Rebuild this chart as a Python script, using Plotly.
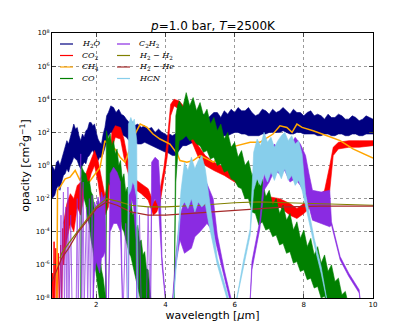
import plotly.graph_objects as go

# opacity values are stored as log10(kappa / cm^2 g^-1); None splits a band into pieces
h2o_wl = [0.72, 0.8, 0.85, 0.9, 0.95, 1.0, 1.05, 1.1, 1.15, 1.2, 1.25, 1.3, 1.35, 1.4, 1.45, 1.5, 1.55, 1.6, 1.65,
          1.7, 1.75, 1.8, 1.85, 1.9, 1.95, 2.0, 2.05, 2.1, 2.15, 2.2, 2.25, 2.3, 2.35, 2.42, 2.5, 2.57, 2.65, 2.72,
          2.8, 2.87, 2.95, 3.02, 3.1, 3.2, 3.3, 3.4, 3.5, 3.6, 3.7, 3.8, 3.9, 4.0, 4.05, 4.12, 4.2, 4.28, 4.35, 4.42,
          4.5, 4.6, 4.7, 4.8, 4.9, 5.0, 5.1, 5.2, 5.3, 5.4, 5.5, 5.6, 5.7, 5.8, 5.9, 6.0, 6.1, 6.2, 6.3, 6.4, 6.5,
          6.6, 6.7, 6.8, 6.9, 7.0, 7.1, 7.2, 7.3, 7.4, 7.5, 7.6, 7.7, 7.8, 7.9, 8.0, 8.1, 8.2, 8.3, 8.4, 8.5, 8.6,
          8.7, 8.8, 8.9, 9.0, 9.1, 9.2, 9.3, 9.4, 9.5, 9.6, 9.7, 9.8, 9.9, 10.0]
h2o_lo = [-2.0, -1.8, -1.4, -1.2, -1.5, -1.0, -0.6, -0.5, -0.2, -0.4, 0.0, 0.2, 0.5, 0.4, 0.3, 0.0, -0.2, 0.0, 0.2,
          0.1, 0.5, 0.6, 0.8, 0.9, 0.7, 0.5, 0.3, 0.5, 0.5, 0.7, 1.0, 1.4, 1.8, 2.0, 2.0, 2.1, 2.0, 1.9,
          1.8, 1.7, 1.5, 1.5, 1.4, 1.3, 1.3, 1.4, 1.3, 1.2, 1.1, 1.0, 0.9, 0.8, 0.8, 0.7, 0.6, 0.6, 0.8, 1.0,
          1.2, 1.2, 1.3, 1.4, 1.4, 1.5, 1.4, 1.5, 1.5, 1.6, 1.6, 1.7, 1.8, 1.8, 1.9, 2.0, 2.0, 1.9, 1.9, 1.8, 1.8,
          1.8, 1.8, 1.9, 1.9, 2.0, 2.0, 2.0, 2.0, 2.1, 2.0, 1.9, 1.9, 2.0, 2.0, 1.9, 1.9, 1.9, 1.9, 1.8, 1.8, 1.9,
          1.9, 1.8, 1.8, 1.9, 1.9, 1.8, 1.8, 1.9, 1.9, 1.8, 1.8, 1.9, 1.9, 1.9]
h2o_hi = [0.0, -0.3, 0.2, 0.3, 0.0, 0.4, 0.8, 1.2, 1.5, 1.3, 1.7, 2.1, 2.5, 2.2, 2.3, 1.8, 1.5, 1.9, 1.7,
          2.1, 2.2, 2.6, 2.6, 2.4, 2.5, 2.0, 1.6, 1.4, 1.3, 1.9, 2.3, 3.0, 3.2, 3.6, 3.5, 3.2, 3.4, 3.1,
          3.0, 2.8, 2.6, 2.7, 2.4, 2.5, 2.3, 2.4, 2.2, 2.3, 2.0, 2.2, 2.0, 1.9, 1.8, 1.9, 1.8, 1.9, 2.0, 2.3,
          2.5, 2.7, 2.8, 2.6, 3.0, 2.9, 3.1, 2.8, 3.0, 3.2, 3.2, 2.9, 3.3, 3.1, 3.4, 3.2, 3.5, 3.3, 3.3, 3.5, 3.2,
          3.0, 3.1, 3.4, 3.3, 3.1, 3.4, 3.2, 3.3, 3.5, 3.3, 3.1, 3.4, 3.2, 3.2, 3.0, 3.2, 3.3, 3.0, 3.1, 3.0, 2.8,
          3.1, 2.9, 2.9, 3.1, 3.0, 2.8, 2.8, 3.0, 2.9, 2.7, 2.8, 3.0, 2.9, 2.8]

co2_wl = [1.05, 1.15, 1.25, 1.35, 1.45, 1.55, 1.65, 1.75, 1.85, 1.95, 2.05, 2.15,
          2.25, 2.35, 2.45, 2.55, 2.7, 2.8, 2.9, 3.0, 3.1, 3.3, 3.5, 3.65, 3.75, 3.85, 3.95, 4.05, 4.15, 4.25,
          4.4, 4.6, 4.75, 4.95, 5.15, 5.4, 5.7, 6.0, 6.3, 6.55, 6.75, 7.0, 7.3, 7.6, 7.8, 8.0, 8.2, 8.4, 8.6,
          8.75, 8.85, 9.0, 9.3, 9.6, 10.0]
co2_lo = [-6.0, -4.5, -3.5, -4.0, -2.5, -3.0, -1.8, -1.3, -0.5, 0.0, -1.0, -2.5,
          -3.0, -2.5, 1.0, 1.7, 1.6, 0.5, -0.3, -1.0, -1.4, -1.7, -2.1, -3.0, -2.8, -2.2, -1.0, 0.5, 3.0, 3.6,
          3.4, 2.8, 1.5, 0.5, 0.0, -0.3, -0.6, -1.0, -1.4, -1.8, -2.3, -2.4, -2.5, -3.0, -3.2, -2.9, -2.5, -2.4, -2.3,
          -1.5, 0.6, 1.0, 1.1, 1.1, 1.2]
co2_hi = [-3.5, -2.3, -1.7, -2.0, -1.2, -1.0, -0.8, -0.2, 0.4, 0.9, 0.3, -0.8,
          -1.8, -1.0, 2.0, 2.4, 2.3, 1.6, 0.5, -0.2, -0.8, -1.1, -1.4, -2.2, -2.0, -1.4, -0.2, 1.5, 3.7, 4.0,
          3.9, 3.4, 2.3, 1.2, 0.6, 0.2, -0.1, -0.4, -0.9, -1.2, -1.8, -1.9, -2.0, -2.3, -2.6, -2.3, -2.0, -1.9, -1.5,
          0.0, 1.1, 1.4, 1.5, 1.5, 1.5]
# narrow CO2 lines at the short-wavelength end
co2_spk_wl = [0.72, 0.74, 0.76, 0.78, 0.8, 0.83, 0.86, 0.9, 0.93, 0.97, 1.0, 1.03, 1.06]
co2_spk_val = [-8.5, -6.5, -8.5, -4.6, -8.5, -5.0, -8.5, -5.3, -8.5, -4.8, -8.5, -3.8, -6.0]

ch4_wl = [0.86, 0.88, 0.95, 1.1, 1.24, 1.39, 1.53, 1.62, 1.76, 1.91, 2.11, 2.25, 2.34, 2.54, 2.69, 2.83, 2.98,
          3.12, 3.27, 3.47, 3.64, 3.84, 4.13, 4.34, 4.42, 4.62, 4.8, 5.0, 5.2, 5.38, 5.58, 5.78, 6.07, 6.45,
          6.73, 7.11, 7.31, 7.51, 7.66, 7.8, 7.95, 8.27, 8.67, 9.05, 9.42, 9.91, 10.0]
ch4_val = [-8.5, -1.5, -1.3, -0.8, -0.7, -0.3, -0.9, -0.5, -1.1, -0.7, -0.1, 1.5, 1.3, 1.0, 0.5, 0.2, 1.1,
           1.9, 2.5, 2.3, 1.9, 1.6, 1.3, 0.7, 0.3, 0.2, 0.3, 0.6, 0.4, 0.2, 0.5, 1.0, 1.2, 1.4,
           1.4, 1.9, 2.4, 2.3, 2.0, 2.5, 2.3, 2.1, 1.8, 1.5, 1.0, 0.5, 0.45]

co_wl = [1.55, 1.57, 1.6, 1.65, 1.7, 1.75, 1.8, 1.85, 1.9, 1.95, 2.0, 2.05, 2.1, 2.15, 2.2, 2.25, 2.3, None,
         2.27, 2.29, 2.35, 2.4, 2.45, 2.5, 2.55, 2.6, 2.65, 2.7, 2.75, 2.8, 2.85, 2.9, 2.95, 3.0, 3.05, 3.1,
         3.15, 3.2, 3.25, 3.3, 3.35, 3.4, 3.45, 3.5, 3.55, 3.6, None,
         4.25, 4.3, 4.35, 4.4, 4.5, 4.6, 4.7, 4.8, 4.9, 5.0, 5.1, 5.2, 5.3, 5.4, 5.5, 5.6, 5.7, 5.8, 5.9, 6.0,
         6.1, 6.2, 6.3, 6.4, 6.5, 6.6, 6.7, 6.8, 6.9, 7.0, 7.1, 7.2, 7.3, 7.4, 7.5, 7.6, 7.7, 7.8, 7.9, 8.0,
         8.1, 8.2, 8.3, 8.4, 8.5, 8.6, 8.7, 8.8, 8.9, 9.0, 9.1, 9.2, 9.3]
co_lo = [-8.5, -1.0, -1.2, -2.0, -2.4, -3.2, -3.6, -4.5, -5.0, -5.8, -6.6, -7.3, -8.2, -8.5, -8.5, -8.5, -8.5, None,
         -8.5, -3.0, -1.0, -1.2, -1.5, -1.8, -2.2, -2.6, -3.0, -3.2, -3.8, -4.0, -4.5, -4.8, -5.3, -5.5, -6.0, -6.3,
         -6.8, -7.3, -7.8, -8.3, -8.5, -8.5, -8.5, -8.5, -8.5, -8.5, None,
         -8.5, -1.0, 0.5, 1.5, 1.6, 1.8, 1.5, 1.6, 1.3, 1.2, 0.8, 0.9, 0.4, 0.5, 0.0, 0.1, -0.4, -0.3, -0.8, -0.9,
         -1.3, -1.4, -2.0, -2.0, -2.8, -2.9, -3.6, -3.4, -3.9, -3.8, -4.3, -4.2, -4.8, -4.7, -5.3, -5.2, -5.9, -5.8,
         -6.4, -6.3, -6.9, -6.8, -7.4, -7.3, -8.0, -7.9, -8.5, -8.5, -8.5, -8.5, -8.5, -8.5, -8.5]
co_hi = [-8.5, 0.0, -0.2, -0.4, -0.5, -1.0, -0.9, -1.6, -1.8, -2.9, -3.3, -4.6, -5.0, -6.3, -6.8, -7.8, -8.5, None,
         -8.5, 2.1, 1.6, 1.9, 1.2, 1.5, 0.7, 1.0, 0.0, 0.3, -0.8, -0.5, -1.6, -1.3, -2.3, -2.0, -3.0, -2.8,
         -3.8, -3.6, -4.6, -4.5, -5.4, -5.2, -6.2, -6.3, -7.5, -8.5, None,
         -8.5, 3.0, 3.6, 3.9, 3.5, 4.4, 3.6, 4.1, 3.3, 3.8, 3.0, 3.4, 2.5, 2.9, 2.1, 2.5, 1.6, 2.0, 1.1, 1.4,
         0.5, 0.9, 0.0, 0.3, -0.6, -0.2, -1.2, -0.8, -1.9, -1.5, -2.4, -2.0, -2.9, -2.4, -3.3, -2.9, -3.9, -3.4,
         -4.4, -3.9, -4.9, -4.4, -5.4, -4.9, -5.9, -5.4, -6.4, -6.0, -7.0, -6.8, -7.8, -7.6, -8.5]

c2h2_wl = [1.9, 1.95, 2.0, 2.05, 2.1, 2.15, 2.2, 2.25, 2.3, None,
           2.35, 2.4, 2.5, 2.6, 2.7, 2.76, None,
           2.93, 2.95, 3.02, 3.08, 3.15, 3.17, None,
           3.57, 3.6, 3.7, 3.8, 3.85, 3.9, 4.0, 4.05, None,
           4.2, 4.3, 4.42, 4.55, 4.75, 4.85, 5.0, 5.2, 5.38, 5.5, 5.7, 5.87, 5.95, None,
           6.44, 6.5, 6.73, 6.85, 7.0, 7.15, 7.3, 7.45, 7.6, 7.75, 7.9, 8.05, 8.15, 8.25, 8.5, 8.75, 8.8, 9.05,
           9.3, 9.6, 9.65]
c2h2_lo = [-8.5, -6.5, -5.8, -6.2, -6.5, -5.6, -5.5, -5.2, -8.5, None,
           -8.5, -4.0, -3.5, -3.5, -4.0, -8.5, None,
           -8.5, -3.0, -2.0, -2.5, -4.5, -8.5, None,
           -8.5, -2.5, -2.0, -2.5, -4.0, -6.0, -8.2, -8.5, None,
           -8.5, -6.0, -4.5, -5.3, -5.0, -4.3, -4.0, -3.5, -4.0, -5.0, -6.8, -8.2, -8.5, None,
           -8.5, -6.3, -3.8, -1.5, -1.0, -0.3, -0.5, -0.3, -1.0, -0.8, -1.2, -1.8, -2.5, -3.3, -3.5, -3.7, -3.6, -5.7,
           -6.7, -7.7, -8.5]
c2h2_hi = [-8.5, -2.2, -2.6, -1.9, -2.4, -1.6, -2.0, -1.8, -8.5, None,
           -8.5, -0.5, -0.1, -0.4, -1.0, -8.5, None,
           -8.5, 0.3, 0.9, 0.5, -1.0, -8.5, None,
           -8.5, 0.2, 0.5, 0.3, -1.5, -5.5, -8.0, -8.5, None,
           -8.2, -5.5, -3.0, -2.1, -2.0, -1.5, -1.6, -1.1, -2.0, -4.2, -6.3, -7.8, -8.5, None,
           -8.5, -5.8, -3.3, -0.5, 0.8, 1.3, 0.9, 1.5, 1.2, 1.7, 1.3, 0.6, -0.5, -1.5, -1.6, -1.5, -3.4, -5.5,
           -6.5, -7.5, -8.5]
# isolated narrow C2H2 lines
c2h2_spk_wl = [0.95, 0.98, 1.0, 1.05, 1.08, 1.12, 1.15, 1.18, 1.21, 1.26, 1.3, 1.42, 1.45, 1.48, 1.52, 1.55, 1.58,
               1.62, 1.65, 1.72, 1.75, 1.8, 1.83, 1.88, 1.92, 2.78, 2.85, 2.9, 3.2, 3.25, 3.3, 3.45, 3.5, 3.55]
c2h2_spk_val = [-8.5, -3.0, -8.5, -1.6, -8.5, -2.5, -8.5, -1.3, -8.5, -3.0, -8.5, -8.5, -2.0, -8.5, -3.0, 0.7, -8.5,
                -1.0, -8.5, -2.5, -8.5, -2.0, -8.5, -1.8, -8.5, -8.5, -3.5, -8.5, -8.5, -3.0, -8.5, -8.5, -2.5, -8.5]

h2h2_wl = [0.95, 1.0, 1.2, 1.45, 1.75, 2.0, 2.3, 2.6, 3.0, 3.5, 4.0, 5.0, 6.0, 6.7, 7.5, 8.5, 9.5, 10.0]
h2h2_val = [-5.6, -5.3, -4.7, -4.0, -3.2, -2.5, -2.0, -2.15, -2.4, -2.5, -2.5, -2.4, -2.25, -2.2, -2.25, -2.3, -2.35, -2.4]

h2he_wl = [0.72, 0.85, 1.0, 1.2, 1.45, 1.75, 2.0, 2.3, 2.6, 3.0, 3.5, 4.0, 5.0, 6.0, 6.7, 7.5, 8.5, 9.5, 10.0]
h2he_val = [-7.0, -6.3, -5.6, -5.0, -4.1, -3.3, -2.6, -2.2, -2.4, -2.8, -3.0, -3.0, -2.85, -2.7, -2.6, -2.5, -2.45, -2.45, -2.45]

hcn_wl = [2.91, 2.93, 3.0, 3.05, 3.1, 3.17, 3.19, None,
          4.22, 4.35, 4.45, 4.55, 4.65, 4.75, 4.85, 4.95, 5.05, 5.15, 5.25, 5.5, 5.8, 5.85, None,
          6.02, 6.25, 6.45, 6.55, 6.65, 6.75, 6.85, 6.95, 7.05, 7.15, 7.25, 7.35, 7.45, 7.55, 7.65, 7.75, 7.85,
          7.95, 8.05, 8.3, 8.5, 8.67, 8.7]
hcn_lo = [-8.5, -1.8, -1.5, -1.0, -1.2, -2.0, -8.5, None,
          -8.5, -5.0, -2.5, -2.2, -2.6, -2.0, -2.8, -2.2, -2.5, -2.3, -3.5, -6.0, -8.2, -8.5, None,
          -8.5, -6.2, -4.2, -1.5, -0.8, -1.2, -0.5, -1.0, -0.4, -0.9, -0.3, -0.8, -0.2, -0.9, -0.6, -1.2, -0.9,
          -1.5, -2.3, -4.8, -6.5, -8.2, -8.5]
hcn_hi = [-8.5, 2.5, 2.9, 2.6, 2.8, 1.5, -8.5, None,
          -8.5, -4.6, -1.5, 0.2, -0.3, 0.5, -0.2, 0.3, 0.6, -0.2, -1.8, -5.6, -7.8, -8.5, None,
          -8.5, -5.8, -3.8, 0.8, 1.6, 1.2, 2.0, 1.4, 1.7, 1.1, 1.5, 1.8, 2.0, 1.5, 1.8, 1.3, 1.5,
          0.7, -1.7, -4.4, -6.1, -7.9, -8.5]

names = ["<i>H</i><sub>2</sub><i>O</i>", "<i>CO</i><sub>2</sub>", "<i>CH</i><sub>4</sub>", "<i>CO</i>",
         "<i>C</i><sub>2</sub><i>H</i><sub>2</sub>", "<i>H</i><sub>2</sub> − <i>H</i><sub>2</sub>",
         "<i>H</i><sub>2</sub> − <i>He</i>", "<i>HCN</i>"]
colors = ["#000080", "#ff0000", "#ffa500", "#008000", "#8a2be2", "#808000", "#a52a2a", "#87ceeb"]

yticks = [-8, -6, -4, -2, 0, 2, 4, 6, 8]
xticks = [2, 4, 6, 8, 10]


def band_outline(wl, lo, hi):
    # closed polygon per piece, pieces separated by None
    xs, ys = [], []
    seg = []
    for w, a, b in list(zip(wl, lo, hi)) + [(None, None, None)]:
        if w is None:
            if seg:
                xs += [s[0] for s in seg] + [s[0] for s in seg[::-1]] + [None]
                ys += [10 ** s[2] for s in seg] + [10 ** s[1] for s in seg[::-1]] + [None]
            seg = []
        else:
            seg.append((w, a, b))
    return xs, ys


fig = go.Figure()

def add_band(wl, lo, hi, color):
    xs, ys = band_outline(wl, lo, hi)
    fig.add_trace(go.Scatter(x=xs, y=ys, mode="lines", fill="toself", fillcolor=color,
                             line=dict(color=color, width=0.6), showlegend=False, hoverinfo="skip"))

def add_line(wl, val, color, width=1.2, opacity=1.0):
    fig.add_trace(go.Scatter(x=wl, y=[10 ** v for v in val], mode="lines", opacity=opacity,
                             line=dict(color=color, width=width), showlegend=False))

add_band(h2o_wl, h2o_lo, h2o_hi, colors[0])
add_band(co2_wl, co2_lo, co2_hi, colors[1])
add_line(co2_spk_wl, co2_spk_val, colors[1], 1.0)
add_line(ch4_wl, ch4_val, colors[2], 1.5)
add_band(co_wl, co_lo, co_hi, colors[3])
add_band(c2h2_wl, c2h2_lo, c2h2_hi, colors[4])
add_line(c2h2_spk_wl, c2h2_spk_val, colors[4], 1.0, 0.7)
add_line(h2h2_wl, h2h2_val, colors[5])
add_line(h2he_wl, h2he_val, colors[6])
add_band(hcn_wl, hcn_lo, hcn_hi, colors[7])

# legend drawn by hand, two columns, matplotlib-like compact spacing
shapes, annots = [], []
for i, (nm, c) in enumerate(zip(names, colors)):
    col, row = divmod(i, 4)
    x0 = (60 + 57 * col - 52) / 321.0
    x1 = (73 + 57 * col - 52) / 321.0
    yy = (298 - (44 + 11.5 * row)) / 265.0
    shapes.append(dict(type="line", xref="paper", yref="paper", x0=x0, x1=x1, y0=yy, y1=yy,
                       line=dict(color=c, width=1.2)))
    annots.append(dict(xref="paper", yref="paper", x=(80 + 57 * col - 52) / 321.0, y=yy, text=nm,
                       showarrow=False, xanchor="left", yanchor="middle",
                       font=dict(family="DejaVu Serif", size=8, color="black")))

# the page adds an 8px body margin, so the figure itself is shifted up/left by that much
fig.update_layout(
    width=415, height=332,
    margin=dict(l=44, r=50, t=25, b=42),
    paper_bgcolor="white", plot_bgcolor="white",
    font=dict(family="DejaVu Sans", color="black"),
    title=dict(text="<i>p</i>=1.0 bar, <i>T</i>=2500K", x=0.494, xanchor="center", y=0.945, yanchor="middle",
               font=dict(size=12)),
    shapes=shapes, annotations=annots,
    showlegend=False,
)
fig.update_xaxes(range=[0.72, 10], tickvals=xticks, ticktext=[str(t) for t in xticks],
                 tickfont=dict(size=7), ticks="inside", ticklen=4, showline=True, linecolor="black",
                 linewidth=1, mirror="ticks", showgrid=True, gridcolor="#9a9a9a", griddash="dot",
                 gridwidth=0.8, zeroline=False,
                 title=dict(text="wavelength [<i>μ</i>m]", font=dict(size=11), standoff=2))
fig.update_yaxes(type="log", range=[-8, 8], tickvals=[10 ** t for t in yticks],
                 ticktext=["10<sup>%d</sup>" % t for t in yticks],
                 tickfont=dict(size=7), ticks="inside", ticklen=4, showline=True, linecolor="black",
                 linewidth=1, mirror="ticks", showgrid=True, gridcolor="#9a9a9a", griddash="dot",
                 gridwidth=0.8, zeroline=False,
                 title=dict(text="opacity [cm<sup>2</sup>g<sup>−1</sup>]", font=dict(size=11), standoff=3))

fig.write_html("out.html")
